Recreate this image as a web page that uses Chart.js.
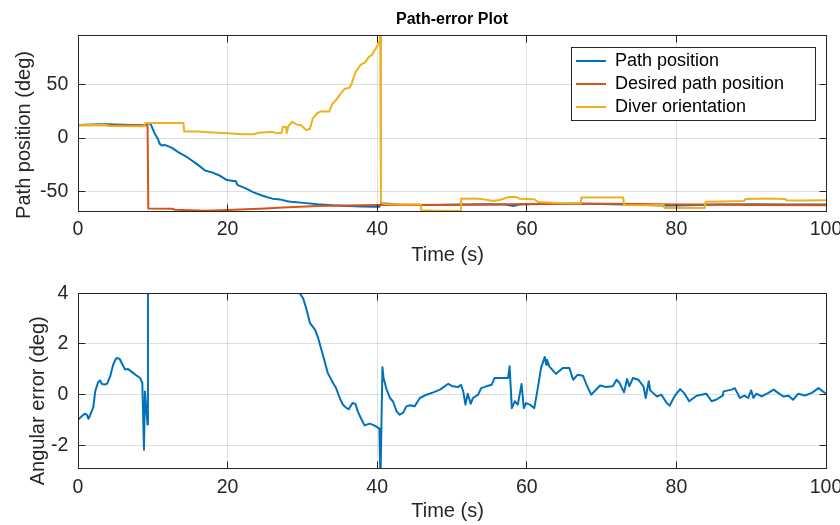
<!DOCTYPE html>
<html>
<head>
<meta charset="utf-8">
<script src="https://cdn.jsdelivr.net/npm/chart.js@4.4.1/dist/chart.umd.min.js"></script>
<style>
html, body { margin: 0; padding: 0; background: #ffffff; }
#wrap { position: relative; width: 840px; height: 525px; overflow: hidden; background: #ffffff; }
canvas { position: absolute; left: 0; }
</style>
</head>
<body>
<div id="wrap">
  <canvas id="topChart" width="840" height="275" style="top:0;width:840px;height:275px"></canvas>
  <canvas id="bottomChart" width="840" height="250" style="top:275px;width:840px;height:250px"></canvas>
</div>
<script>
// ---------- text ----------
const chartTitle = 'Path-error Plot';
const xAxisLabel = 'Time (s)';
const topYAxisLabel = 'Path position (deg)';
const bottomYAxisLabel = 'Angular error (deg)';
const seriesNames = ['Path position', 'Desired path position', 'Diver orientation'];

// ---------- ticks ----------
const xTickValues = [0, 20, 40, 60, 80, 100];
const topYTickValues = [-50, 0, 50];
const bottomYTickValues = [-2, 0, 2, 4];

// ---------- data ----------
const pathTime = [0, 1, 2, 3, 4, 5, 6, 7, 8, 9,
  9.4, 9.7, 10.2, 10.7, 10.9, 11.2, 11.6, 12.5, 13.4, 14.7,
  16, 17, 18, 19, 19.9, 20.8, 21.1, 21.3, 22.5, 23.4,
  24.5, 25.2, 26, 27, 28, 28.5, 30.5, 32, 34, 36,
  38, 39.5, 40.3, 40.5, 41, 43, 45, 48, 50, 52,
  55, 57, 58.3, 59, 62, 65, 68, 70, 73, 75,
  78, 80, 83, 86, 90, 95, 100];
const pathValue = [12.0, 12.4, 12.8, 13.0, 12.9, 12.6, 12.4, 12.2, 12.1, 12.3,
  14.0, 13.2, 5.0, -1.2, -5.3, -7.0, -6.5, -9.0, -13.2, -18.5,
  -25.0, -30.5, -32.5, -35.5, -39.5, -40.3, -40.5, -44.0, -47.5, -50.8,
  -53.8, -55.5, -57.0, -57.7, -59.5, -60.0, -61.2, -62.2, -63.2, -63.8,
  -64.3, -64.6, -64.5, -62.0, -61.5, -62.5, -63.0, -63.0, -62.8, -62.5,
  -62.3, -62.5, -63.8, -62.5, -62.0, -61.8, -61.8, -62.0, -62.5, -62.8,
  -63.5, -63.5, -63.0, -62.5, -62.3, -62.5, -62.5];

const desiredTime = [0, 9.3, 9.4, 12.5, 13, 15, 17, 20, 25, 27.4, 32, 40,
  45, 50, 55, 60, 65, 70, 75, 80, 85, 90, 100];
const desiredValue = [12.0, 12.0, -66.3, -66.5, -67.5, -67.8, -68.3, -67.6, -66.2, -65.2, -63.8, -63.0,
  -63.0, -62.8, -62.5, -62.0, -61.8, -61.8, -62.0, -62.5, -62.5, -63.0, -63.2];

const diverTime = [0, 3.5, 4.3, 8.8, 9.0, 14.1, 14.2, 16, 18, 20,
  22, 23.5, 24.2, 26, 26.5, 27.2, 27.4, 27.8, 27.9, 28.1,
  28.6, 29.2, 29.8, 30.5, 31.0, 31.4, 32.0, 32.5, 33.6, 34.0,
  34.6, 35.0, 35.6, 36.3, 36.6, 37.1, 37.8, 38.4, 38.9, 39.3,
  39.8, 40.3, 40.4, 40.5, 41, 43, 45.8, 45.9, 48, 51.1,
  51.2, 53.0, 54.0, 55.5, 56.5, 57.7, 58.6, 59.0, 61.0, 61.5,
  64, 67.2, 67.3, 70, 72.9, 73.0, 76, 78.3, 78.4, 83.8,
  83.9, 86, 89.1, 89.2, 92, 94.6, 94.7, 97, 100];
const diverValue = [12.0, 12.5, 11.2, 11.0, 14.2, 14.0, 6.2, 6.0, 5.2, 4.4,
  3.5, 3.6, 5.0, 5.8, 4.6, 4.8, 10.5, 10.5, 4.5, 10.8,
  15.2, 12.8, 12.0, 7.5, 8.5, 18.5, 23.5, 25.0, 25.0, 32.0,
  36.5, 40.5, 46.0, 47.2, 51.5, 62.0, 69.0, 71.0, 76.5, 78.0,
  84.0, 90.5, 96.1, -60.5, -62.0, -62.5, -62.2, -68.0, -68.3, -68.5,
  -57.0, -56.8, -57.4, -59.2, -58.0, -55.2, -55.5, -57.0, -57.5, -60.2,
  -61.0, -61.2, -56.0, -55.8, -56.0, -63.0, -63.2, -63.0, -65.8, -65.8,
  -60.0, -59.7, -59.2, -57.3, -56.8, -57.4, -58.8, -58.8, -58.6];

const errorTime = [0, 0.5, 0.9, 1.2, 1.4, 1.6, 2.05, 2.3, 2.7, 2.95,
  3.2, 3.6, 3.9, 4.3, 4.7, 5.0, 5.2, 5.6, 6.0, 6.3,
  6.7, 7.4, 8.0, 8.3, 8.6, 8.82, 8.95, 9.1, 9.3, 9.35,
  10, 11, 12, 14, 16, 18, 20, 22, 24, 26,
  28, 29.65,
  30.1, 30.5, 31.0, 31.7, 32.1, 32.8, 33.4, 34.1, 34.5, 35.0,
  35.4, 35.9, 36.2, 36.7, 37.1, 37.4, 37.7, 38.3, 39.0, 39.6,
  40.3, 40.43, 40.7, 40.85, 41.2, 41.7, 42.1, 42.6, 43.0, 43.45,
  43.9, 44.4, 45.0, 45.7,
  46.6, 47.5, 48.4, 49.5, 50.1, 50.8, 51.2, 51.5, 51.8, 52.1,
  52.5, 52.8, 53.5, 53.9, 54.6, 55.3, 55.7, 57.5, 57.7, 58.0,
  58.4, 58.8, 59.3, 59.6, 59.9, 60.4, 61.0, 61.4, 61.9, 62.4,
  62.6, 62.7, 63.0, 63.9, 64.8, 65.7, 66.2, 66.8, 67.5, 68.0,
  68.6, 69.8, 70.6, 71.5, 72.0, 72.4, 73.0, 73.4, 73.7, 74.2,
  74.9, 75.6, 75.9, 76.3, 76.5, 77.4, 78.0, 78.7, 79.1, 79.8,
  80.5, 81.1, 81.7, 82.7, 84.0, 84.7, 85.3, 86.2, 86.3, 87.4,
  87.8, 88.5, 89.1, 89.6, 90.0, 90.3, 90.7, 91.4, 92.3, 93.0,
  93.6, 94.3, 95.0, 95.6, 96.3, 97.2, 98.1, 99.0, 100];
const errorValue = [-0.99, -0.85, -0.75, -0.8, -0.95, -0.82, -0.49, 0.13, 0.5, 0.56,
  0.42, 0.4, 0.44, 0.72, 1.18, 1.38, 1.45, 1.4, 1.15, 0.99,
  1.01, 0.85, 0.72, 0.66, 0.46, -2.17, 0.13, -0.46, -1.18, 78,
  75, 61, 56, 48, 39, 33, 27, 21, 14, 10,
  6.5, 4.0,
  3.8, 3.42, 2.83, 2.56, 2.24, 1.51, 0.85, 0.46, 0.26, -0.13,
  -0.39, -0.53, -0.57, -0.33, -0.37, -0.66, -0.85, -1.21, -1.14, -1.21,
  -1.34, -3.5, 1.08, 0.66, 0.26, -0.13, -0.26, -0.66, -0.79, -0.72,
  -0.46, -0.42, -0.46, -0.13,
  0, 0.09, 0.2, 0.43, 0.33, 0.3, 0.39, 0.13, -0.39, 0.04,
  -0.36, -0.13, 0, 0.26, 0.33, 0.39, 0.66, 0.66, 1.12, -0.53,
  -0.26, -0.39, 0.42, -0.53, -0.33, -0.39, -0.53, 0.13, 1.05, 1.49,
  1.18, 1.38, 1.12, 0.82, 1.05, 1.05, 0.59, 0.79, 0.75, 0.39,
  0, 0.36, 0.3, 0.33, 0.59, 0.46, 0.09, 0.62, 0.33, 0.66,
  0.59, 0.33, -0.13, 0.53, 0.17, -0.07, 0, -0.33, -0.43, -0.04,
  0.22, 0.04, -0.26, -0.04, 0.04, -0.26, -0.2, -0.04, 0.13, 0.2,
  0.26, -0.13, -0.04, -0.13, 0.17, -0.13, 0.04, -0.07, 0.07, 0.2,
  0.07, -0.07, -0.04, -0.2, 0.04, -0.03, 0.07, 0.26, 0.04];

// ---------- styling ----------
const FONT = "'Liberation Sans', Arial, Helvetica, sans-serif";
const AXIS_COLOR = '#262626';
const GRID_COLOR = 'rgba(38,38,38,0.15)';
const COLORS = { path: '#0072BD', desired: '#D95319', diver: '#EDB120' };

Chart.defaults.font.family = FONT;

function toPoints(ts, vs) { return ts.map((t, i) => ({ x: t, y: vs[i] })); }
const al = v => Math.round(v - 0.5) + 0.5;

// MATLAB-style box with inward tick marks
const axesBox = {
  id: 'axesBox',
  afterDatasetsDraw(chart) {
    const { ctx, chartArea: a, scales: { x, y } } = chart;
    const L = al(a.left), R = al(a.right), T = al(a.top), B = al(a.bottom);
    const len = 7;
    ctx.save();
    ctx.strokeStyle = AXIS_COLOR;
    ctx.lineWidth = 1;
    ctx.beginPath();
    x.ticks.forEach(t => {
      const px = al(x.getPixelForValue(t.value));
      ctx.moveTo(px, B); ctx.lineTo(px, B - len);
      ctx.moveTo(px, T); ctx.lineTo(px, T + len);
    });
    y.ticks.forEach(t => {
      const py = al(y.getPixelForValue(t.value));
      ctx.moveTo(L, py); ctx.lineTo(L + len, py);
      ctx.moveTo(R, py); ctx.lineTo(R - len, py);
    });
    ctx.stroke();
    ctx.strokeRect(L, T, R - L, B - T);
    ctx.restore();
  }
};

// shift axis titles along their axis (MATLAB places them slightly off-centre)
const axisTitleShift = {
  id: 'axisTitleShift',
  afterLayout(chart, args, opts) {
    [['x', opts.x || 0], ['y', opts.y || 0]].forEach(([id, d]) => {
      const s = chart.scales[id];
      if (!s || s.__shifted) return;
      const orig = s.drawTitle;
      s.drawTitle = function () {
        const h = this.isHorizontal();
        const a = h ? 'left' : 'top', b = h ? 'right' : 'bottom';
        const sa = this[a], sb = this[b];
        this[a] = sa + d; this[b] = sb + d;
        orig.call(this);
        this[a] = sa; this[b] = sb;
      };
      s.__shifted = true;
    });
  }
};

// legend inside the axes with a framed white box
const legendFrame = {
  id: 'legendFrame',
  afterLayout(chart, args, opts) {
    const lg = chart.legend;
    if (!lg || !opts.box) return;
    const b = opts.box;
    lg.left = b.left; lg.top = b.top;
    lg.width = b.width; lg.height = b.height + 6;
    lg.right = b.left + b.width; lg.bottom = b.top + b.height + 6;
    if (!lg.__framed) {
      const orig = lg.draw;
      lg.draw = function (area) {
        const ctx = chart.ctx;
        ctx.save();
        ctx.fillStyle = '#ffffff';
        ctx.fillRect(b.left, b.top, b.width, b.height);
        ctx.strokeStyle = AXIS_COLOR;
        ctx.lineWidth = 1;
        ctx.strokeRect(b.left + 0.5, b.top + 0.5, b.width - 1, b.height - 1);
        ctx.restore();
        orig.call(this, area);
      };
      lg.__framed = true;
    }
  }
};

function lineDataset(label, ts, vs, color, order) {
  return {
    label, data: toPoints(ts, vs), borderColor: color, backgroundColor: color,
    borderWidth: 2, pointRadius: 0, pointHoverRadius: 0, tension: 0, fill: false,
    borderJoinStyle: 'round', order
  };
}

function xScale(height, titleBottomPad) {
  return {
    type: 'linear', min: 0, max: 100,
    afterBuildTicks: s => { s.ticks = xTickValues.map(v => ({ value: v })); },
    afterFit: s => { s.height = height; s.paddingLeft = 0; s.paddingRight = 0; },
    grid: { color: GRID_COLOR, lineWidth: 1, drawTicks: false },
    border: { display: false },
    ticks: { color: AXIS_COLOR, font: { size: 19.5 }, padding: 6.8, maxRotation: 0, autoSkip: false,
             callback: v => String(v) },
    title: { display: true, text: xAxisLabel, color: AXIS_COLOR, font: { size: 20 },
             padding: { top: 0, bottom: titleBottomPad } }
  };
}

function yScale(min, max, tickValues, label, titlePadTop) {
  return {
    type: 'linear', min, max,
    afterBuildTicks: s => { s.ticks = tickValues.map(v => ({ value: v })); },
    afterFit: s => { s.width = 78; s.paddingTop = 0; s.paddingBottom = 0; },
    grid: { color: GRID_COLOR, lineWidth: 1, drawTicks: false },
    border: { display: false },
    ticks: { color: AXIS_COLOR, font: { size: 19.5 }, padding: 9.7, autoSkip: false,
             callback: v => String(v) },
    title: { display: true, text: label, color: AXIS_COLOR, font: { size: 20 },
             padding: { top: titlePadTop, bottom: 0 } }
  };
}

// ---------- top subplot ----------
new Chart(document.getElementById('topChart'), {
  type: 'line',
  data: {
    datasets: [
      lineDataset(seriesNames[0], pathTime, pathValue, COLORS.path, 3),
      lineDataset(seriesNames[1], desiredTime, desiredValue, COLORS.desired, 2),
      lineDataset(seriesNames[2], diverTime, diverValue, COLORS.diver, 1)
    ]
  },
  options: {
    responsive: false, animation: false, devicePixelRatio: 1, events: [],
    layout: { padding: { left: 0, right: 14, top: 0, bottom: 0 }, autoPadding: false },
    plugins: {
      tooltip: { enabled: false },
      title: { display: true, text: chartTitle, color: '#000000', fullSize: false,
               font: { size: 16, weight: 'bold' }, padding: { top: 10.4, bottom: 6.1 } },
      legend: {
        display: true, position: 'chartArea', align: 'start',
        labels: { usePointStyle: true, pointStyle: 'line', pointStyleWidth: 30, padding: 5,
                  color: '#000000', font: { size: 18 },
                  sort: (a, b) => a.datasetIndex - b.datasetIndex }
      },
      legendFrame: { box: { left: 571, top: 47, width: 245, height: 74 } },
      axisTitleShift: { x: -4.5, y: 11.6 }
    },
    scales: {
      x: xScale(64, 8),
      y: yScale(-68.6, 96.15, topYTickValues, topYAxisLabel, 12.7)
    }
  },
  plugins: [axisTitleShift, legendFrame, axesBox]
});

// ---------- bottom subplot ----------
new Chart(document.getElementById('bottomChart'), {
  type: 'line',
  data: {
    datasets: [
      lineDataset('Angular error', errorTime, errorValue, COLORS.path, 1)
    ]
  },
  options: {
    responsive: false, animation: false, devicePixelRatio: 1, events: [],
    layout: { padding: { left: 0, right: 14, top: 18.3, bottom: 0 }, autoPadding: false },
    plugins: {
      tooltip: { enabled: false },
      title: { display: false },
      legend: { display: false },
      axisTitleShift: { x: -4.5, y: 19.8 }
    },
    scales: {
      x: xScale(56.3, 1.7),
      y: yScale(-2.92, 4, bottomYTickValues, bottomYAxisLabel, 26.8)
    }
  },
  plugins: [axisTitleShift, axesBox]
});
</script>
</body>
</html>
